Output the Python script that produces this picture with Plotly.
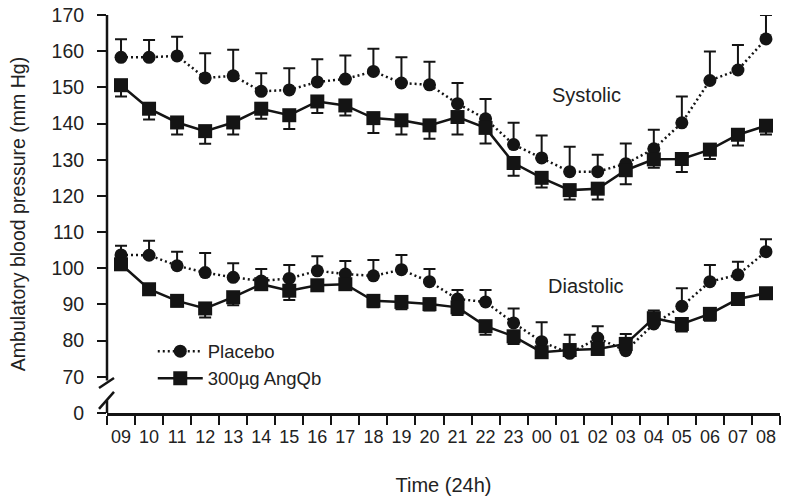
import plotly.graph_objects as go

hours = ["09", "10", "11", "12", "13", "14", "15", "16", "17", "18", "19", "20",
         "21", "22", "23", "00", "01", "02", "03", "04", "05", "06", "07", "08"]

sys_placebo = [158.3, 158.3, 158.7, 152.6, 153.2, 148.9, 149.3, 151.5, 152.3, 154.4, 151.2, 150.7,
               145.5, 141.3, 134.2, 130.5, 126.7, 126.7, 128.9, 133.0, 140.2, 151.9, 154.8, 163.4]
sys_placebo_err = [5.0, 4.8, 5.3, 6.8, 7.2, 5.0, 6.0, 6.3, 6.5, 6.3, 7.1, 6.4,
                   5.7, 5.5, 6.0, 6.2, 6.9, 4.7, 5.6, 5.3, 7.3, 8.0, 6.9, 6.6]

sys_angqb = [150.6, 144.1, 140.3, 137.9, 140.3, 144.1, 142.3, 146.1, 145.0, 141.5, 140.9, 139.5,
             141.8, 138.8, 129.1, 125.0, 121.6, 122.0, 127.1, 130.1, 130.2, 132.8, 136.9, 139.4]
sys_angqb_err = [3.1, 3.0, 3.3, 3.5, 3.3, 2.8, 3.8, 3.2, 2.8, 4.1, 3.9, 3.7,
                 4.8, 4.3, 3.5, 2.7, 2.6, 3.0, 3.9, 2.3, 3.6, 2.6, 3.0, 2.4]

dia_placebo = [103.7, 103.6, 100.7, 98.8, 97.5, 96.5, 97.2, 99.3, 98.4, 97.9, 99.6, 96.3,
               91.5, 90.7, 84.9, 79.7, 76.5, 80.7, 77.2, 84.6, 89.5, 96.3, 98.2, 104.6]
dia_placebo_err = [2.5, 4.0, 3.9, 5.4, 3.9, 3.3, 3.7, 4.0, 3.6, 4.4, 4.1, 3.5,
                   2.5, 3.3, 4.0, 5.4, 5.1, 3.3, 4.6, 3.7, 5.0, 4.6, 3.6, 3.4]

dia_angqb = [101.1, 94.2, 91.0, 88.9, 92.0, 95.6, 93.8, 95.3, 95.6, 91.0, 90.7, 90.1,
             89.2, 84.0, 81.2, 76.8, 77.4, 77.7, 79.1, 86.2, 84.6, 87.4, 91.5, 93.1]
dia_angqb_err = [1.5, 1.6, 1.5, 2.5, 2.2, 1.6, 2.6, 1.5, 1.6, 1.8, 2.0, 1.8,
                 2.1, 2.4, 2.1, 1.5, 1.5, 1.5, 1.5, 1.5, 2.1, 1.9, 1.5, 1.5]

ytick_vals = [60, 70, 80, 90, 100, 110, 120, 130, 140, 150, 160, 170]
ytick_text = ["0", "70", "80", "90", "100", "110", "120", "130", "140", "150", "160", "170"]

INK = "#141414"
FONT = "Liberation Sans, Arial, Helvetica, sans-serif"
zeros = [0] * len(hours)

fig = go.Figure()


def add_series(y, err, name, symbol, dash, up, show):
    fig.add_trace(go.Scatter(
        x=hours, y=y, mode="lines+markers", name=name, legendgroup=name,
        showlegend=show,
        line=dict(color=INK, width=2.5, dash=dash),
        marker=dict(symbol=symbol, size=14 if symbol == "square" else 13, color=INK),
        error_y=dict(type="data", symmetric=False,
                     array=err if up else zeros,
                     arrayminus=zeros if up else err,
                     color=INK, thickness=2, width=6),
        cliponaxis=False,
    ))


add_series(sys_placebo, sys_placebo_err, "Placebo", "circle", "2px,3px", True, True)
add_series(dia_placebo, dia_placebo_err, "Placebo", "circle", "2px,3px", True, False)
add_series(sys_angqb, sys_angqb_err, "300µg AngQb", "square", "solid", False, True)
add_series(dia_angqb, dia_angqb_err, "300µg AngQb", "square", "solid", False, False)

shapes = [
    # y-axis line with break
    dict(type="line", xref="paper", yref="y", x0=0, x1=0, y0=170, y1=69.0,
         line=dict(color=INK, width=2.5)),
    dict(type="line", xref="paper", yref="y", x0=0, x1=0, y0=63.5, y1=60,
         line=dict(color=INK, width=2.5)),
    # break marks
    dict(type="line", xref="paper", yref="y", xsizemode="pixel", ysizemode="pixel",
         xanchor=0, yanchor=68.3, x0=-8, x1=7, y0=-5, y1=5,
         line=dict(color=INK, width=2.5)),
    dict(type="line", xref="paper", yref="y", xsizemode="pixel", ysizemode="pixel",
         xanchor=0, yanchor=63.5, x0=-8, x1=7, y0=-8.5, y1=8.5,
         line=dict(color=INK, width=2.5)),
]

fig.update_layout(
    width=788, height=498,
    margin=dict(l=107, r=8, t=15, b=85, autoexpand=False),
    paper_bgcolor="white", plot_bgcolor="white",
    font=dict(family=FONT, color="#222", size=18),
    showlegend=True,
    legend=dict(x=0.068, y=0.202, xanchor="left", yanchor="top",
                bgcolor="rgba(0,0,0,0)", font=dict(size=18.5, color="#222"),
                itemwidth=45, tracegroupgap=0, traceorder="normal"),
    shapes=shapes,
    annotations=[
        dict(text="Systolic", xref="paper", yref="y", x=0.712, y=147.9,
             xanchor="center", yanchor="middle",
             showarrow=False, font=dict(size=20, color="#222")),
        dict(text="Diastolic", xref="paper", yref="y", x=0.712, y=95.0,
             xanchor="center", yanchor="middle",
             showarrow=False, font=dict(size=20, color="#222")),
    ],
)

fig.update_xaxes(
    type="category", categoryorder="array", categoryarray=hours,
    range=[-0.5, 23.5], tickson="boundaries", tickangle=0, automargin=False,
    showline=True, linecolor=INK, linewidth=2.5,
    ticks="outside", ticklen=9, tickwidth=2, tickcolor=INK,
    showgrid=False, zeroline=False,
    tickfont=dict(size=18, color="#222"), ticklabelstandoff=6,
    title=dict(text="Time (24h)", font=dict(size=20, color="#222"), standoff=32),
)

fig.update_yaxes(
    range=[60, 170], tickmode="array", tickvals=ytick_vals, ticktext=ytick_text,
    automargin=False,
    showline=False, ticks="outside", ticklen=9, tickwidth=2, tickcolor=INK,
    showgrid=False, zeroline=False,
    tickfont=dict(size=19.5, color="#222"), ticklabelstandoff=9,
    title=dict(text="Ambulatory blood pressure (mm Hg)", font=dict(size=19.5, color="#222"),
               standoff=20),
)

fig.write_html("out.html")
